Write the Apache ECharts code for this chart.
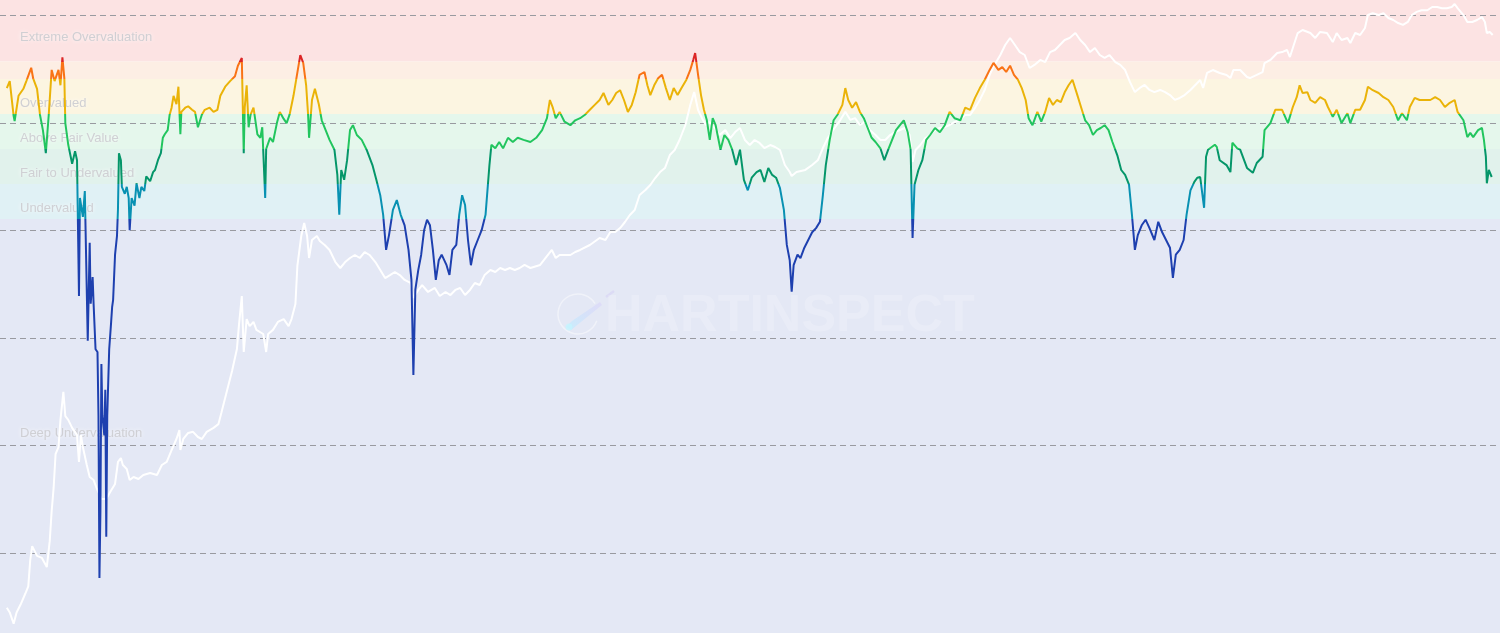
<!DOCTYPE html>
<html>
<head>
<meta charset="utf-8">
<script src="https://cdn.jsdelivr.net/npm/echarts@6/dist/echarts.min.js"></script>
<style>
html,body{margin:0;padding:0;background:#ffffff;}
#chart{width:1500px;height:633px;}
</style>
</head>
<body>
<div id="chart"></div>
<script>
// ---- Valuation oscillator (coloured line): decimal years and values ----
const indYears = [
2010.87,2010.90,2010.94,2010.95,2010.99,2011.04,2011.07,2011.12,2011.14,2011.18,
2011.21,2011.24,2011.27,2011.30,2011.33,2011.36,2011.40,2011.42,2011.44,2011.46,
2011.47,2011.50,2011.54,2011.57,2011.59,2011.61,2011.62,2011.65,2011.67,2011.70,
2011.72,2011.73,2011.75,2011.76,2011.78,2011.80,2011.81,2011.82,2011.83,2011.84,
2011.85,2011.87,2011.88,2011.89,2011.90,2011.92,2011.94,2011.95,2011.96,2011.98,
2012.00,2012.01,2012.02,2012.04,2012.05,2012.08,2012.10,2012.12,2012.13,2012.15,
2012.18,2012.20,2012.23,2012.25,2012.28,2012.30,2012.34,2012.37,2012.39,2012.42,
2012.45,2012.47,2012.49,2012.52,2012.54,2012.56,2012.58,2012.61,2012.63,2012.65,
2012.66,2012.70,2012.73,2012.77,2012.80,2012.83,2012.87,2012.90,2012.95,2012.99,
2013.03,2013.06,2013.11,2013.16,2013.21,2013.24,2013.28,2013.30,2013.31,2013.33,
2013.35,2013.37,2013.40,2013.42,2013.44,2013.47,2013.49,2013.52,2013.53,2013.57,
2013.60,2013.64,2013.67,2013.71,2013.74,2013.77,2013.81,2013.84,2013.88,2013.91,
2013.94,2013.96,2013.97,2014.00,2014.03,2014.07,
2014.10,2014.14,2014.18,2014.23,2014.26,2014.28,2014.30,2014.33,2014.36,2014.39,
2014.42,2014.46,2014.51,2014.56,2014.62,2014.66,2014.70,2014.73,2014.76,2014.79,
2014.83,2014.87,2014.91,2014.95,2014.99,2015.02,2015.04,2015.06,2015.09,2015.12,
2015.15,2015.18,2015.21,2015.24,2015.27,2015.30,2015.33,2015.38,2015.41,2015.44,
2015.48,2015.51,2015.54,2015.57,2015.60,2015.63,2015.66,2015.70,2015.74,2015.78,
2015.82,2015.84,2015.88,2015.92,2015.96,2016.01,2016.06,2016.11,2016.17,2016.24,
2016.30,2016.36,2016.41,2016.44,2016.47,2016.50,2016.54,2016.59,2016.65,2016.70,
2016.75,2016.80,2016.85,2016.90,2016.95,2016.99,2017.04,2017.08,2017.12,2017.16,
2017.20,2017.24,2017.28,2017.32,2017.36,2017.41,2017.44,2017.47,2017.51,2017.55,
2017.59,2017.63,2017.67,2017.71,2017.75,2017.79,2017.84,2017.88,2017.91,2017.93,
2017.96,2017.99,2018.02,2018.05,2018.08,2018.11,2018.14,2018.19,2018.23,2018.27,
2018.31,2018.35,2018.39,2018.43,2018.47,2018.51,2018.56,2018.60,2018.64,2018.68,
2018.72,2018.76,2018.80,2018.84,2018.87,2018.90,2018.92,2018.94,2018.98,2019.01,
2019.05,2019.09,2019.13,2019.17,2019.21,2019.24,2019.27,2019.31,2019.35,2019.39,
2019.44,2019.47,2019.50,2019.54,2019.58,2019.62,2019.66,2019.70,2019.74,2019.78,
2019.83,2019.87,2019.91,2019.95,2019.99,2020.03,2020.07,2020.11,2020.14,2020.16,
2020.18,2020.22,2020.26,2020.30,2020.34,2020.39,2020.44,2020.49,2020.54,2020.59,
2020.65,2020.70,2020.75,2020.80,2020.85,2020.90,2020.95,2020.99,2021.04,2021.08,
2021.12,2021.16,2021.20,2021.24,2021.28,2021.32,2021.35,2021.39,2021.44,2021.48,
2021.52,2021.56,2021.60,2021.64,2021.68,2021.72,2021.76,2021.80,2021.85,2021.89,
2021.93,2021.97,2022.01,2022.05,2022.09,2022.13,2022.17,2022.21,2022.26,2022.30,
2022.34,2022.38,2022.41,2022.44,2022.47,2022.51,2022.55,2022.59,2022.64,2022.68,
2022.72,2022.76,2022.80,2022.83,2022.86,2022.90,2022.94,2022.97,2023.01,2023.05,
2023.08,2023.11,2023.15,2023.17,2023.19,2023.26,2023.28,2023.31,2023.38,2023.42,
2023.44,2023.49,2023.52,2023.59,2023.65,2023.69,2023.75,2023.77,2023.83,2023.88,
2023.95,2024.01,2024.06,2024.10,2024.13,2024.16,2024.21,2024.24,2024.29,2024.34,
2024.39,2024.42,2024.47,2024.51,2024.56,2024.62,2024.65,2024.70,2024.75,2024.80,
2024.83,2024.88,2024.94,2024.99,2025.04,2025.09,2025.14,2025.18,2025.23,2025.26,
2025.31,2025.36,2025.42,2025.47,2025.52,2025.57,2025.62,2025.67,2025.72,2025.75,
2025.81,2025.85,2025.88,2025.91,2025.96,2026.00,2026.02,2026.04,2026.05,2026.07,2026.10
];
const indValues = [
0.87,0.97,0.47,0.40,0.76,0.86,0.97,1.16,1.01,0.86,
0.49,0.27,-0.06,0.49,1.13,0.97,1.13,0.91,1.31,1.01,
0.37,0.06,-0.21,-0.03,-0.16,-2.10,-0.70,-0.97,-0.60,-2.74,
-1.34,-2.21,-1.83,-2.21,-2.86,-2.90,-3.81,-6.13,-5.17,-3.07,
-3.81,-4.09,-3.44,-5.54,-3.81,-2.86,-2.47,-2.26,-2.16,-1.51,
-1.24,-0.86,-0.06,-0.16,-0.54,-0.64,-0.54,-0.70,-1.16,-0.70,
-0.81,-0.49,-0.70,-0.54,-0.60,-0.39,-0.46,-0.33,-0.30,-0.16,
-0.06,0.16,0.21,0.27,0.49,0.59,0.76,0.64,0.89,0.21,
0.53,0.59,0.61,0.56,0.53,0.31,0.49,0.56,0.59,0.53,
0.56,0.76,0.89,0.97,1.04,1.19,1.30,-0.06,0.59,0.91,
0.31,0.49,0.59,0.61,0.21,0.16,0.31,-0.70,0.00,0.16,
0.10,0.37,0.53,0.43,0.37,0.49,0.76,1.01,1.34,1.23,
0.91,0.49,0.16,0.70,0.86,0.64,
0.41,0.27,0.13,-0.01,-0.37,-0.94,-0.30,-0.44,-0.16,0.27,
0.34,0.20,0.13,-0.01,-0.23,-0.44,-0.66,-0.94,-1.44,-1.23,
-0.87,-0.73,-0.94,-1.09,-1.44,-1.87,-3.23,-2.01,-1.73,-1.51,
-1.16,-1.01,-1.09,-1.44,-1.87,-1.59,-1.51,-1.66,-1.80,-1.44,
-1.37,-0.94,-0.66,-0.80,-1.30,-1.66,-1.44,-1.30,-1.16,-0.94,
-0.23,0.06,0.01,0.10,0.01,0.16,0.10,0.16,0.13,0.10,
0.16,0.27,0.44,0.70,0.59,0.44,0.53,0.39,0.34,0.41,
0.44,0.49,0.56,0.63,0.70,0.80,0.63,0.70,0.80,0.84,
0.70,0.53,0.63,0.81,1.06,1.10,0.91,0.77,0.91,1.01,
1.06,0.87,0.70,0.87,0.77,0.87,0.99,1.13,1.27,1.37,
1.06,0.77,0.56,0.41,0.13,0.44,0.34,-0.01,0.20,0.13,
-0.01,-0.23,-0.01,-0.44,-0.59,-0.41,-0.33,-0.30,-0.47,-0.27,
-0.37,-0.41,-0.56,-0.87,-1.37,-1.59,-2.04,-1.66,-1.51,-1.56,
-1.41,-1.30,-1.19,-1.13,-1.04,-0.66,-0.23,0.13,0.41,0.49,
0.63,0.87,0.70,0.59,0.67,0.53,0.44,0.30,0.16,0.10,
0.01,-0.16,-0.01,0.13,0.27,0.34,0.41,0.24,-0.01,-1.27,
-0.51,-0.30,-0.16,0.13,0.20,0.30,0.24,0.34,0.53,0.44,
0.41,0.59,0.56,0.73,0.87,0.99,1.13,1.23,1.13,1.17,
1.10,1.19,1.06,0.99,0.87,0.70,0.44,0.34,0.53,0.39,
0.53,0.73,0.63,0.70,0.67,0.81,0.91,0.99,0.77,0.59,
0.41,0.34,0.20,0.27,0.30,0.34,0.27,0.10,-0.09,-0.30,
-0.37,-0.51,-0.94,-1.44,-1.23,-1.09,-1.01,-1.13,-1.30,-1.04,
-1.19,-1.30,-1.41,-1.84,-1.51,-1.44,-1.30,-0.94,-0.59,-0.47,
-0.41,-0.40,-0.84,-0.11,-0.01,0.06,0.03,-0.16,-0.23,-0.33,
0.09,0.01,-0.01,-0.27,-0.34,-0.20,-0.11,0.27,0.37,0.56,
0.56,0.37,0.60,0.74,0.91,0.80,0.81,0.70,0.66,0.74,
0.70,0.60,0.46,0.56,0.37,0.51,0.37,0.56,0.56,0.70,
0.89,0.84,0.80,0.74,0.70,0.60,0.41,0.51,0.41,0.60,
0.73,0.70,0.70,0.70,0.74,0.70,0.60,0.66,0.70,0.53,
0.41,0.17,0.23,0.17,0.27,0.30,0.13,-0.11,-0.49,-0.30,-0.40
];

// ---- Price (white line, USD, log scale) ----
const priceYears = [
2010.87,2010.90,2010.94,2010.97,2011.01,2011.06,2011.09,2011.11,2011.13,2011.18,
2011.23,2011.28,2011.31,2011.33,2011.35,2011.37,2011.40,2011.42,2011.45,2011.47,
2011.50,2011.54,2011.59,2011.61,2011.63,2011.65,2011.69,2011.72,2011.76,2011.79,
2011.84,2011.89,2011.93,2011.98,2012.01,2012.04,2012.06,2012.10,2012.13,2012.17,
2012.22,2012.27,2012.34,2012.41,2012.46,2012.51,2012.56,2012.61,2012.64,2012.65,
2012.68,2012.73,2012.78,2012.83,2012.87,2012.92,2012.99,2013.04,2013.07,2013.13,
2013.18,2013.23,2013.25,2013.28,2013.30,2013.33,2013.36,2013.40,2013.43,2013.50,
2013.53,2013.55,2013.60,2013.65,2013.71,2013.76,2013.79,2013.83,2013.85,2013.89,
2013.92,2013.95,2013.97,2014.00,2014.05,2014.08,2014.13,2014.18,2014.24,2014.29,
2014.34,2014.39,2014.44,2014.49,2014.54,2014.59,2014.65,2014.70,2014.75,2014.80,
2014.85,2014.90,2014.95,2015.01,2015.04,2015.09,2015.13,2015.19,2015.26,2015.31,
2015.37,2015.42,2015.47,2015.52,2015.57,2015.62,2015.67,2015.72,2015.77,2015.83,
2015.88,2015.93,2015.98,2016.03,2016.08,2016.13,2016.18,2016.24,2016.34,2016.42,
2016.46,2016.50,2016.54,2016.65,2016.70,2016.75,2016.85,2016.95,2017.01,2017.06,
2017.11,2017.16,2017.21,2017.26,2017.31,2017.36,2017.42,2017.47,2017.52,2017.57,
2017.62,2017.67,2017.72,2017.77,2017.83,2017.88,2017.92,2017.96,2018.00,2018.04,
2018.08,2018.13,2018.18,2018.24,2018.29,2018.34,2018.39,2018.44,2018.49,2018.54,
2018.59,2018.64,2018.70,2018.75,2018.80,2018.85,2018.90,2018.92,2018.97,2019.06,
2019.13,2019.19,2019.24,2019.29,2019.36,2019.42,2019.47,2019.52,2019.57,2019.62,
2019.67,2019.72,2019.78,2019.83,2019.88,2019.93,2019.98,2020.03,2020.08,2020.13,
2020.16,2020.19,2020.24,2020.29,2020.34,2020.39,2020.44,2020.49,2020.54,2020.59,
2020.65,2020.70,2020.75,2020.80,2020.85,2020.90,2020.95,2021.00,2021.06,2021.11,
2021.16,2021.21,2021.26,2021.31,2021.36,2021.41,2021.47,2021.52,2021.57,2021.62,
2021.67,2021.72,2021.77,2021.83,2021.88,2021.93,2021.98,2022.03,2022.08,2022.13,
2022.18,2022.24,2022.29,2022.34,2022.39,2022.44,2022.49,2022.54,2022.59,2022.64,
2022.70,2022.75,2022.80,2022.85,2022.90,2022.95,2023.01,2023.06,2023.11,2023.14,
2023.18,2023.24,2023.31,2023.38,2023.42,2023.45,2023.52,2023.59,2023.62,2023.69,
2023.75,2023.77,2023.83,2023.90,2023.95,2024.00,2024.03,2024.06,2024.11,2024.16,
2024.24,2024.29,2024.34,2024.41,2024.47,2024.51,2024.56,2024.62,2024.65,2024.70,
2024.75,2024.80,2024.83,2024.88,2024.94,2024.99,2025.04,2025.09,2025.14,2025.19,
2025.24,2025.28,2025.33,2025.38,2025.44,2025.49,2025.54,2025.59,2025.64,2025.69,
2025.72,2025.75,2025.81,2025.85,2025.90,2025.95,2026.00,2026.03,2026.05,2026.08,
2026.11
];
const priceValues = [
0.31,0.28,0.22,0.28,0.33,0.42,0.49,0.86,1.16,0.94,
0.90,0.74,1.29,2.46,4.03,8.34,9.68,17.3,31.5,18.8,
17.3,14.6,12.5,7.03,12.5,9.68,6.59,5.09,4.77,4.03,
3.18,3.18,3.69,4.39,7.03,7.65,6.59,6.04,4.77,5.09,
4.88,5.32,5.55,5.32,6.59,7.03,9.08,11.5,13.9,9.08,
11.5,13.1,13.4,12.0,11.5,13.4,14.6,15.8,20.1,32.8,
49.3,79.0,129,246,74.1,150,129,141,119,109,
74.1,109,119,141,150,129,150,207,468,889,
1175,889,555,817,889,798,733,659,509,448,
509,555,592,555,631,592,509,429,361,385,
411,385,347,325,236,280,311,268,292,246,
268,251,280,292,251,280,325,311,385,429,
411,448,429,448,429,448,478,448,478,592,
659,555,592,592,631,659,733,851,817,968,
968,1055,1200,1393,1552,2138,2382,2649,3076,3500,
3811,5035,5610,6950,9580,14700,19400,13200,11100,9580,
10200,8980,7730,8610,7250,8240,8980,6950,6240,6950,
6520,5850,6240,5980,5610,4070,3500,3210,3500,3660,
4070,4530,5850,7250,8980,10700,12700,10700,11100,9580,
10200,8610,7730,6950,6950,7730,8240,8610,8980,7730,
4340,5610,6240,7250,7730,8610,8980,9180,9580,10200,
10700,11900,11900,13800,16400,20300,28000,34700,42900,53200,
61800,53200,45700,42900,32500,34700,38600,36900,45700,47800,
53200,59200,61800,68700,59200,53200,45700,49900,42900,40300,
42900,36900,34700,31100,24000,19400,21200,22600,20300,19400,
20300,19400,18200,16400,17100,18200,20300,22600,25100,21200,
29200,31100,29200,28000,26200,31100,31100,26800,26200,28000,
29800,36100,38600,44800,45700,47800,41100,49900,68700,73300,
68700,61800,70300,68700,56700,68700,59200,61800,55500,68700,
65900,76500,101000,105000,101000,105000,94800,90800,85100,81700,
87100,101000,108000,112000,112000,120000,120000,117000,117000,120000,
128000,117000,101000,87100,87100,90800,96800,87100,68700,70300,
65900
];

// ---- Valuation zones (oscillator units) ----
const zoneNames  = ['Extreme Overvaluation', '', 'Overvalued', 'Above Fair Value', 'Fair to Undervalued', 'Undervalued', 'Deep Undervaluation'];
const zoneEdges  = [2.1286, 1.25, 1.0, 0.5, 0, -0.5, -1, -6.9143];
const zoneFills  = ['#fce3e3', '#fdeee4', '#fcf5e1', '#e5f7ec', '#e1f2ec', '#e0f1f5', '#e4e8f5'];
const lineColors = ['#dc2626', '#f97316', '#eab308', '#22c55e', '#059669', '#0891b2', '#1e40af'];

// axis extents
const X_MIN = 2010.80, X_MAX = 2026.185;
const OSC_MIN = -6.9143, OSC_MAX = 2.1286;
const PRICE_MIN = 0.18029, PRICE_MAX = 139390;

const indData = indYears.map((y, i) => [y, indValues[i]]);
const priceData = priceYears.map((y, i) => [y, priceValues[i]]);

const zoneAreas = zoneNames.map((name, i) => [
  {
    name: name,
    yAxis: zoneEdges[i],
    itemStyle: { color: zoneFills[i] },
    label: { show: name !== '' }
  },
  { yAxis: zoneEdges[i + 1] }
]);

const pieces = [];
for (let i = 0; i < lineColors.length; i++) {
  const p = { color: lineColors[i] };
  const hi = zoneEdges[i];
  const lo = zoneEdges[i + 1];
  if (i > 0) p.lte = hi;
  if (i < lineColors.length - 1) p.gt = lo;
  pieces.push(p);
}

const chart = echarts.init(document.getElementById('chart'), null, { renderer: 'canvas' });

const cometGrad = new echarts.graphic.LinearGradient(1, 0, 0, 1, [
  { offset: 0, color: 'rgba(215,205,250,0.45)' },
  { offset: 1, color: 'rgba(190,240,255,0.75)' }
]);

chart.setOption({
  backgroundColor: '#ffffff',
  animation: false,
  grid: { left: 0, right: 0, top: 0, bottom: 0, containLabel: false },
  xAxis: { type: 'value', min: X_MIN, max: X_MAX, show: false },
  yAxis: [
    {
      type: 'log', logBase: 10, min: PRICE_MIN, max: PRICE_MAX,
      axisLine: { show: false }, axisTick: { show: false }, axisLabel: { show: false },
      splitLine: { show: true, showMinLine: false, showMaxLine: false,
        lineStyle: { color: '#999aa0', width: 1, type: [6, 4] } }
    },
    {
      type: 'value', min: OSC_MIN, max: OSC_MAX,
      axisLine: { show: false }, axisTick: { show: false }, axisLabel: { show: false },
      splitLine: { show: false }
    }
  ],
  visualMap: {
    type: 'piecewise', show: false, seriesIndex: 2, dimension: 1,
    pieces: pieces
  },
  graphic: [
    {
      type: 'group', z: 1, silent: true,
      children: [
        { type: 'arc', shape: { cx: 578, cy: 314, r: 20, startAngle: 0.35, endAngle: Math.PI * 2 - 0.55, clockwise: true },
          style: { stroke: 'rgba(255,255,255,0.45)', lineWidth: 1.5, fill: null } },
        { type: 'polygon', shape: { points: [[600, 302], [572, 321], [566, 327], [571, 330], [602, 305]] },
          style: { fill: cometGrad } },
        { type: 'circle', shape: { cx: 569, cy: 327, r: 3.5 }, style: { fill: 'rgba(195,245,255,0.7)' } },
        { type: 'line', shape: { x1: 606, y1: 297, x2: 614, y2: 291 },
          style: { stroke: 'rgba(215,210,245,0.6)', lineWidth: 2.5 } },
        { type: 'text', style: { x: 605, y: 317, text: 'HARTINSPECT', fill: 'rgba(255,255,255,0.2)',
          font: 'bold 52px "Liberation Sans", Arial, sans-serif', verticalAlign: 'middle', align: 'left' } }
      ]
    }
  ],
  series: [
    {
      type: 'line', data: [], yAxisIndex: 1, silent: true, z: -1,
      markArea: {
        silent: true, z: -1,
        label: {
          show: true, position: 'insideLeft', distance: 20, offset: [0, 7],
          fontSize: 13, fontFamily: '"Liberation Sans", Arial, sans-serif',
          color: 'rgba(205,205,210,0.95)',
          textShadowColor: 'rgba(255,255,255,1)', textShadowBlur: 4
        },
        data: zoneAreas
      }
    },
    {
      name: 'Price', type: 'line', yAxisIndex: 0, data: priceData,
      showSymbol: false, symbol: 'none', z: 2,
      lineStyle: { color: '#ffffff', width: 2 }
    },
    {
      name: 'Valuation', type: 'line', yAxisIndex: 1, data: indData,
      showSymbol: false, symbol: 'none', z: 3,
      lineStyle: { width: 2 }
    }
  ]
});
</script>
</body>
</html>
